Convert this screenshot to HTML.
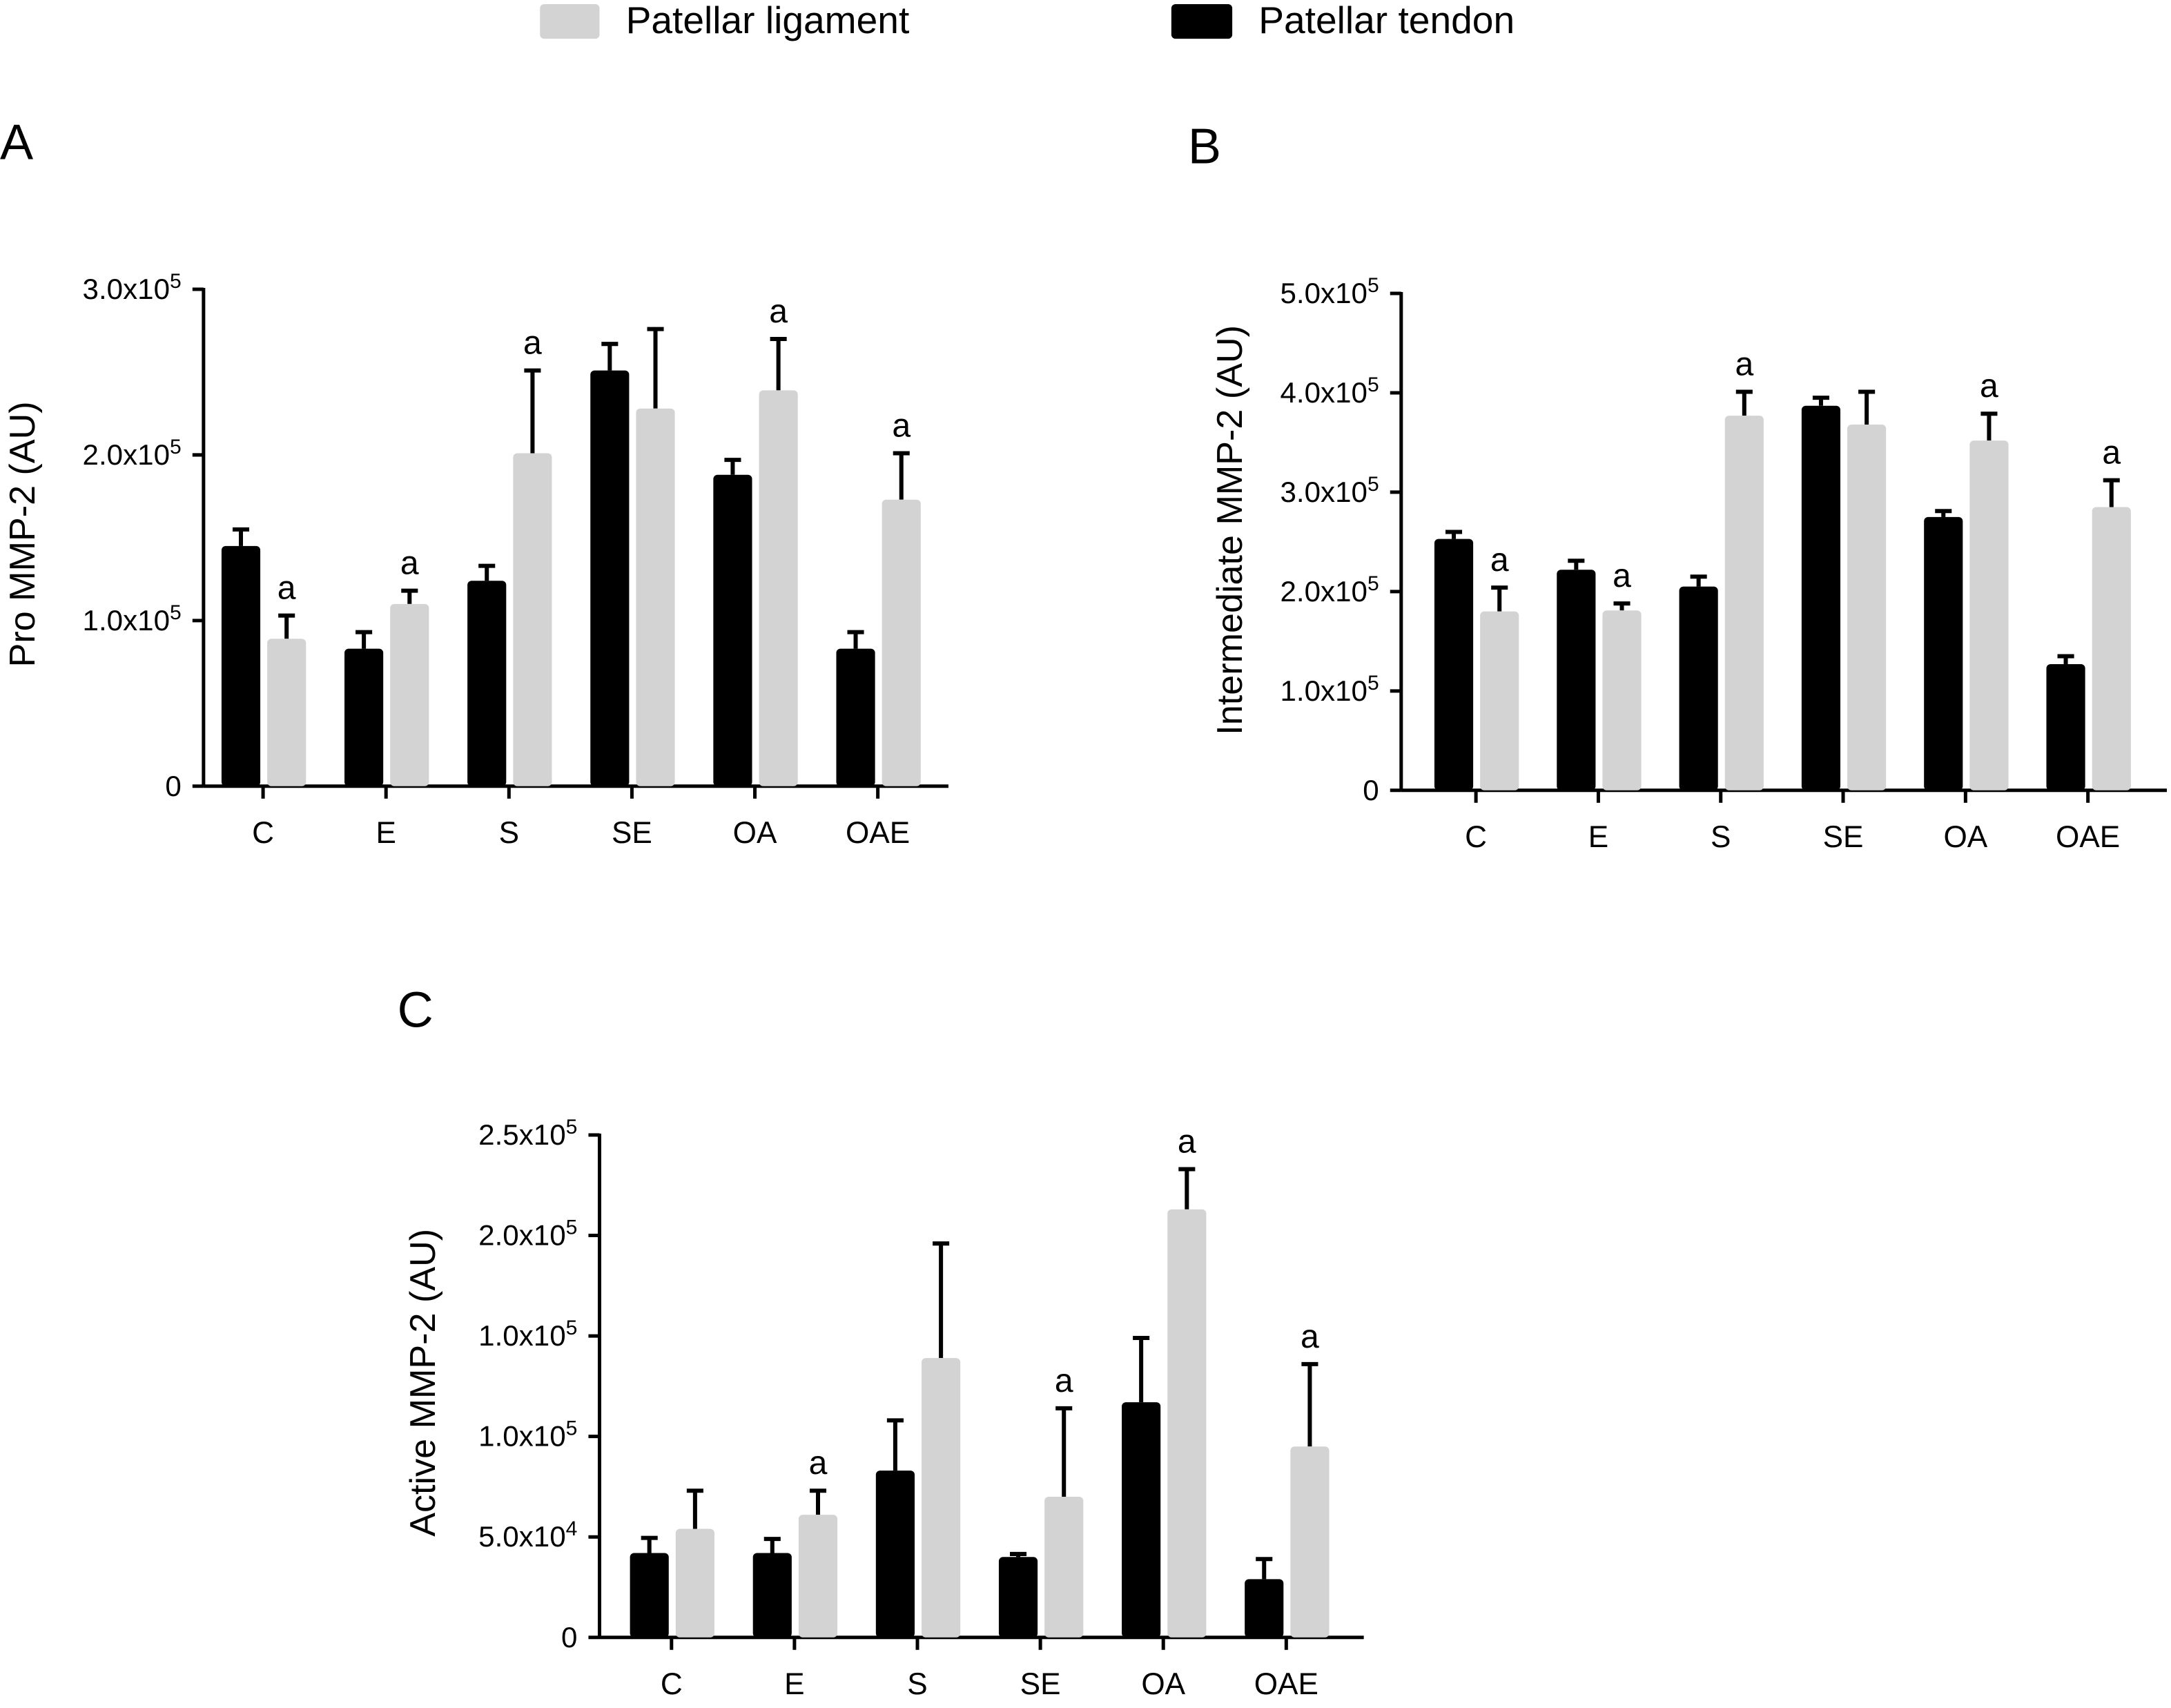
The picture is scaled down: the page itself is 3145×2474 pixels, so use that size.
<!DOCTYPE html>
<html><head><meta charset="utf-8">
<style>
html,body{margin:0;padding:0;background:#fff;}
svg{display:block;font-family:"Liberation Sans",Arial,sans-serif;}
</style></head>
<body>
<svg id="fig" width="3145" height="2474" viewBox="0 0 1568 1234" preserveAspectRatio="none" xmlns="http://www.w3.org/2000/svg">
  <g>
    <rect x="390" y="3" width="43" height="25" rx="3" fill="#d3d3d3"/>
    <text x="452" y="24" font-size="27.5">Patellar ligament</text>
    <rect x="846" y="3" width="44" height="25" rx="3" fill="#000"/>
    <text x="909" y="24" font-size="27.5">Patellar tendon</text>
  </g>
  <text x="0" y="115" font-size="36">A</text>
  <text x="858" y="118" font-size="36">B</text>
  <text x="287" y="742" font-size="36">C</text>
</svg>
<script>
const categories = ["C","E","S","SE","OA","OAE"];
// Panel A (units 1e5)
const aTendon = [1.45,0.83,1.24,2.51,1.88,0.83];
const aTendonErr = [1.55,0.93,1.33,2.67,1.97,0.93];
const aLigament = [0.89,1.10,2.01,2.28,2.39,1.73];
const aLigamentErr = [1.03,1.18,2.51,2.76,2.70,2.01];
const aSig = [true,true,true,false,true,true];
const aTickVals = [0,1,2,3];
const aTickLabels = [["0",""],["1.0x10","5"],["2.0x10","5"],["3.0x10","5"]];
// Panel B (units 1e5)
const bTendon = [2.53,2.22,2.05,3.87,2.75,1.27];
const bTendonErr = [2.60,2.31,2.15,3.95,2.81,1.35];
const bLigament = [1.80,1.81,3.77,3.68,3.52,2.85];
const bLigamentErr = [2.04,1.88,4.01,4.01,3.79,3.12];
const bSig = [true,true,true,false,true,true];
const bTickVals = [0,1,2,3,4,5];
const bTickLabels = [["0",""],["1.0x10","5"],["2.0x10","5"],["3.0x10","5"],["4.0x10","5"],["5.0x10","5"]];
// Panel C (units 1e4)
const cTendon = [4.2,4.2,8.3,4.0,11.7,2.9];
const cTendonErr = [4.95,4.9,10.8,4.15,14.9,3.9];
const cLigament = [5.4,6.1,13.9,7.0,21.3,9.5];
const cLigamentErr = [7.3,7.3,19.6,11.4,23.3,13.6];
const cSig = [false,true,false,true,true,true];
const cTickVals = [0,5,10,15,20,25];
const cTickLabels = [["0",""],["5.0x10","4"],["1.0x10","5"],["1.0x10","5"],["2.0x10","5"],["2.5x10","5"]];

const NS="http://www.w3.org/2000/svg";
const svg=document.getElementById('fig');
function mk(tag,attrs,parent){const e=document.createElementNS(NS,tag);for(const k in attrs)e.setAttribute(k,attrs[k]);(parent||svg).appendChild(e);return e;}

function panel(cfg){
  const g=mk('g',{});
  
  
  const y=v=>cfg.y0-(v-0)*(cfg.y0-cfg.yTop)/cfg.yMax;
  const xc=i=>cfg.xFirst+i*cfg.step;
  const ya=mk('line',{x1:cfg.ax,y1:cfg.yTop-1,x2:cfg.ax,y2:cfg.y0,stroke:'#000','stroke-width':2.5},g);
  
  
  const xa=mk('line',{x1:cfg.ax,y1:cfg.y0,x2:cfg.xEnd,y2:cfg.y0,stroke:'#000','stroke-width':2.5},g);
  
  
  cfg.ticks.forEach((t,i)=>{
    const ty=y(t);
    const tl=mk('line',{x1:cfg.ax-8,y1:ty,x2:cfg.ax,y2:ty,stroke:'#000','stroke-width':2.5},g);
    
    
    const tx=mk('text',{x:cfg.ax-16,y:ty+7,'font-size':21,'text-anchor':'end'},g);
    
    
    const lab=cfg.tickLabels[i];
    if(lab[1]){
      const s1=mk('tspan',{},tx);s1.textContent=lab[0];
      const s2=mk('tspan',{'font-size':15,dy:-8},tx);s2.textContent=lab[1];
    } else tx.textContent=lab[0];
  });
  categories.forEach((c,i)=>{
    const cx=xc(i);
    const tk=mk('line',{x1:cx,y1:cfg.y0,x2:cx,y2:cfg.y0+9,stroke:'#000','stroke-width':2.5},g);
    
    
    const lb=mk('text',{x:cx,y:cfg.y0+41,'font-size':22,'text-anchor':'middle'},g);
    
    
    lb.textContent=c;
    const series=[[cfg.tendon,cfg.tendonErr,'#000',-30,'tendon'],[cfg.lig,cfg.ligErr,'#d3d3d3',3,'ligament']];
    series.forEach(s=>{
      const bx=cx+s[3], w=28, top=y(s[0][i]), et=y(s[1][i]);
      const mid=bx+w/2;
      const el=mk('line',{x1:mid,y1:top,x2:mid,y2:et,stroke:'#000','stroke-width':3},g);
      
      
      const ec=mk('line',{x1:mid-6,y1:et,x2:mid+6,y2:et,stroke:'#000','stroke-width':3},g);
      
      
      const r=mk('rect',{x:bx,y:top,width:w,height:cfg.y0-top,rx:3,fill:s[2]},g);
      
      
      if(s[4]==='ligament' && cfg.sig[i]){
        const a=mk('text',{x:mid,y:et-12,'font-size':24,'text-anchor':'middle'},g);
        
        
        a.textContent='a';
      }
    });
  });
  const yt=mk('text',{x:0,y:0,'font-size':26,'text-anchor':'middle',transform:`translate(${cfg.titleX},${cfg.titleY}) rotate(-90)`},g);
  
  
  yt.textContent=cfg.title;
}
panel({id:'a',ax:147,xEnd:685,y0:568,yTop:209,yMax:3,xFirst:190,step:88.8,ticks:aTickVals,tickLabels:aTickLabels,tendon:aTendon,tendonErr:aTendonErr,lig:aLigament,ligErr:aLigamentErr,sig:aSig,title:'Pro MMP-2 (AU)',titleX:25,titleY:386});
panel({id:'b',ax:1012,xEnd:1565,y0:571,yTop:212,yMax:5,xFirst:1066,step:88.4,ticks:bTickVals,tickLabels:bTickLabels,tendon:bTendon,tendonErr:bTendonErr,lig:bLigament,ligErr:bLigamentErr,sig:bSig,title:'Intermediate MMP-2 (AU)',titleX:897,titleY:383});
panel({id:'c',ax:433,xEnd:985,y0:1183,yTop:820,yMax:25,xFirst:485,step:88.8,ticks:cTickVals,tickLabels:cTickLabels,tendon:cTendon,tendonErr:cTendonErr,lig:cLigament,ligErr:cLigamentErr,sig:cSig,title:'Active MMP-2 (AU)',titleX:314,titleY:999});
</script>
</body></html>
